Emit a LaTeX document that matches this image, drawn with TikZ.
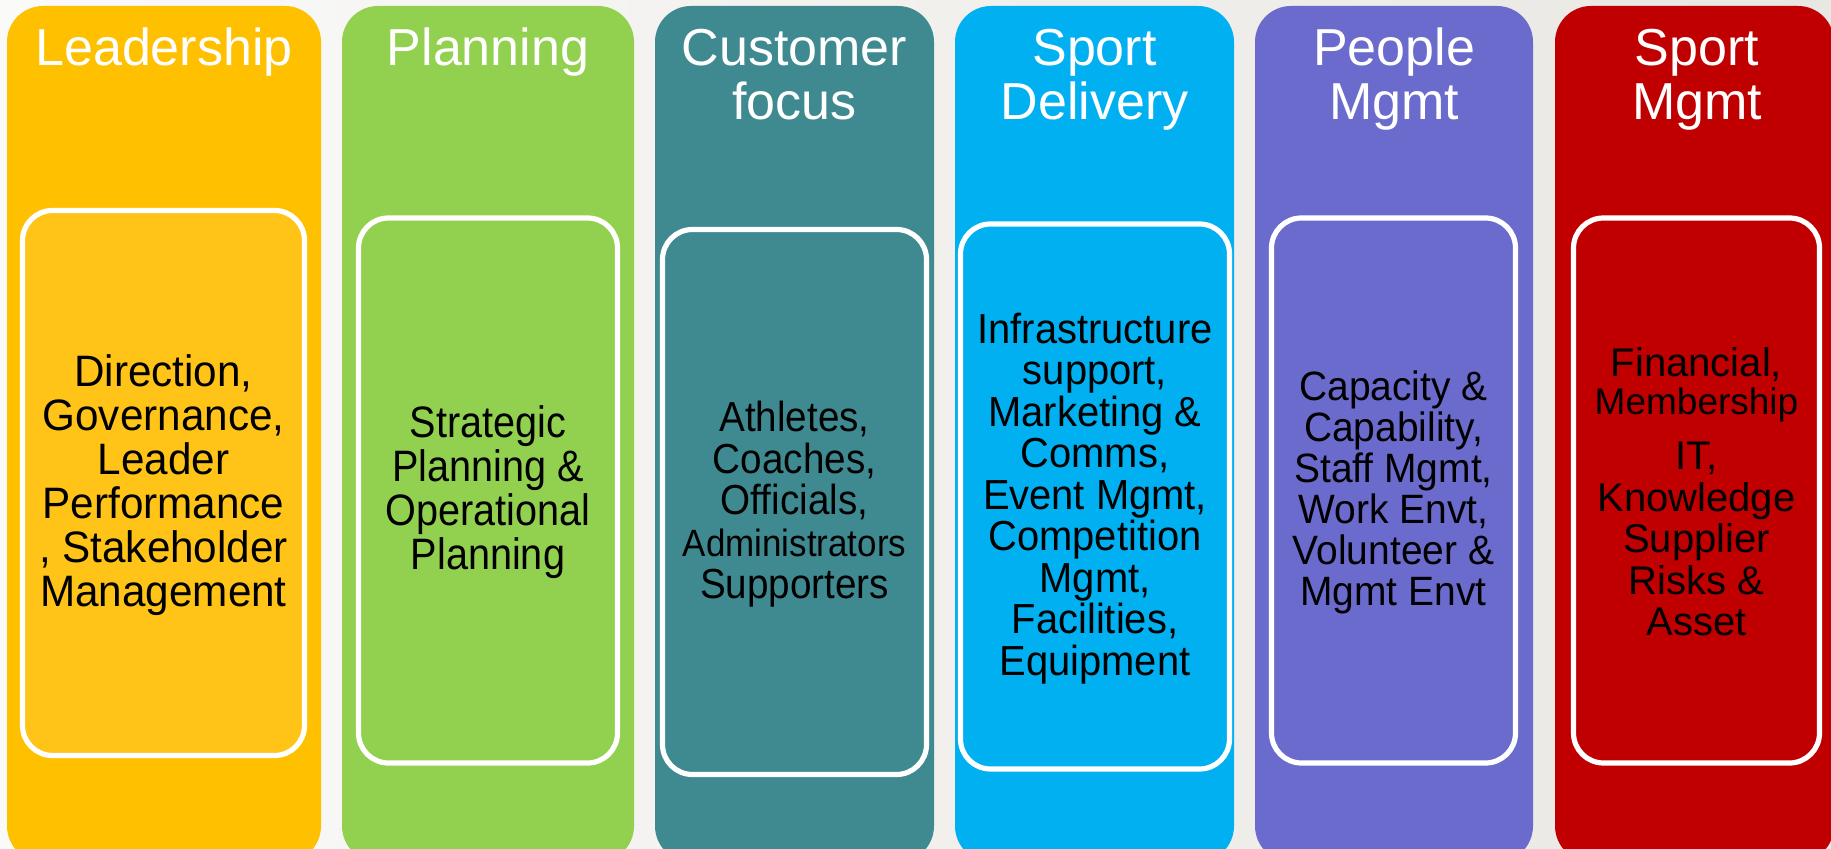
\documentclass[tikz,border=0pt]{standalone}
\usepackage{fontspec}
\setmainfont{Liberation Sans}
\newfontfamily\fLead[FakeStretch=0.96]{Liberation Sans}
\newfontfamily\fPlan[FakeStretch=0.90]{Liberation Sans}
\newfontfamily\fCust[FakeStretch=0.92]{Liberation Sans}
\newfontfamily\fDel[FakeStretch=0.95]{Liberation Sans}
\newfontfamily\fPeop[FakeStretch=0.95]{Liberation Sans}
\newfontfamily\fSpM{Liberation Sans}
\definecolor{bgL}{HTML}{FAFAF9}
\definecolor{bgR}{HTML}{E9E7E2}
\definecolor{cLead}{HTML}{FFC000}
\definecolor{cLeadIn}{HTML}{FFC417}
\definecolor{cPlan}{HTML}{92D050}
\definecolor{cCust}{HTML}{3E8A90}
\definecolor{cDel}{HTML}{00B0F0}
\definecolor{cPeop}{HTML}{6B6BCD}
\definecolor{cSpM}{HTML}{C00000}
\tikzset{
  col/.style={rectangle, rounded corners=18pt, draw=none, inner sep=0pt, outer sep=0pt, minimum height=428pt},
  inbox/.style={rectangle, rounded corners=15pt, draw=white, line width=2.6pt, inner sep=0pt, outer sep=0pt, minimum height=272.5pt},
  hdr/.style={anchor=base, text=white, inner sep=0pt, font=\fontsize{26}{27}\selectfont},
  body/.style={align=center, text=black, inner sep=0pt, anchor=center}
}
\begin{document}
\begin{tikzpicture}[x=0.5pt,y=-0.5pt]
\useasboundingbox (0,0) rectangle (1831,849);
\clip (0,0) rectangle (1831,849);
\fill[left color=bgL, right color=bgR] (0,0) rectangle (1831,849);

% columns
\node[col, fill=cLead, minimum width=157pt] (col1) at (164,434) {};
\node[col, fill=cPlan, minimum width=146pt] (col2) at (488,434) {};
\node[col, fill=cCust, minimum width=139.5pt] (col3) at (794.5,434) {};
\node[col, fill=cDel, minimum width=139.5pt] (col4) at (1094.5,434) {};
\node[col, fill=cPeop, minimum width=139pt] (col5) at (1394,434) {};
\node[col, fill=cSpM, minimum width=139.5pt] (col6) at (1694.5,434) {};

% headers
\node[hdr] (h1) at (164,66) {Leadership};
\node[hdr] (h2) at (488,66) {Planning};
\node[hdr] (h3a) at (794.5,66) {Customer};
\node[hdr] (h3b) at (794.5,120) {focus};
\node[hdr] (h4a) at (1094.5,66) {Sport};
\node[hdr] (h4b) at (1094.5,120) {Delivery};
\node[hdr] (h5a) at (1394,66) {People};
\node[hdr] (h5b) at (1394,120) {Mgmt};
\node[hdr] (h6a) at (1697,66) {Sport};
\node[hdr] (h6b) at (1697,120) {Mgmt};

% inner boxes
\node[inbox, fill=cLeadIn, minimum width=141pt] (in1) at (163.5,483) {};
\node[inbox, fill=cPlan, minimum width=129.5pt] (in2) at (488,490.5) {};
\node[inbox, fill=cCust, minimum width=132pt] (in3) at (794.5,502) {};
\node[inbox, fill=cDel, minimum width=134.5pt] (in4) at (1095,496.5) {};
\node[inbox, fill=cPeop, minimum width=122pt] (in5) at (1393.5,490.5) {};
\node[inbox, fill=cSpM, minimum width=123pt] (in6) at (1696.5,490.5) {};

% body texts
\node[body, font=\fLead\fontsize{22}{22}\selectfont] (t1) at ([yshift=-1pt]in1.center)
  {Direction,\\Governance,\\Leader\\Performance\\, Stakeholder\\Management};
\node[body, font=\fPlan\fontsize{22}{22}\selectfont] (t2) at ([yshift=-1pt]in2.center)
  {Strategic\\Planning \&\\Operational\\Planning};
\node[body, font=\fCust\fontsize{21}{20.8}\selectfont] (t3) at ([yshift=-1pt]in3.center)
  {Athletes,\\Coaches,\\Officials,\\{\fontsize{19}{20.8}\selectfont Administrators}\\Supporters};
\node[body, font=\fDel\fontsize{21}{20.75}\selectfont] (t4) at ([yshift=-1pt]in4.center)
  {Infrastructure\\support,\\Marketing \&\\Comms,\\Event Mgmt,\\Competition\\Mgmt,\\Facilities,\\Equipment};
\node[body, font=\fPeop\fontsize{20.5}{20.5}\selectfont] (t5) at ([yshift=-1pt]in5.center)
  {Capacity \&\\Capability,\\Staff Mgmt,\\Work Envt,\\Volunteer \&\\Mgmt Envt};
\node[body, font=\fSpM\fontsize{20}{20.7}\selectfont] (t6) at ([yshift=-0.5pt]in6.center)
  {Financial,\\[-1.5pt]{\fontsize{18.5}{19}\selectfont Membership}\\[7pt]IT,\\Knowledge\\Supplier\\Risks \&\\Asset};
\end{tikzpicture}
\end{document}
